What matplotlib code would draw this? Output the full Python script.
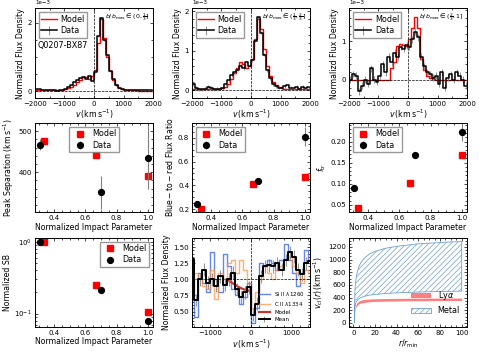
import numpy as np
import matplotlib
matplotlib.use("Agg")
import matplotlib.pyplot as plt
from matplotlib.ticker import MultipleLocator

plt.rcParams['font.size'] = 5.6
plt.rcParams['xtick.labelsize'] = 5.0
plt.rcParams['ytick.labelsize'] = 5.0
plt.rcParams['xtick.major.pad'] = 2
plt.rcParams['ytick.major.pad'] = 2
plt.rcParams['hatch.linewidth'] = 0.5
plt.rcParams['axes.linewidth'] = 0.7

# Lya spectra (units of 1e-3), bin centres every 100 km/s
v_lya = np.arange(-1950, 2000, 100)
data1 = [0.05, 0.05, 0.04, 0.03, 0.02, 0.03, 0.02, 0.01, 0.02, 0.04,
         0.07, 0.12, 0.17, 0.26, 0.33, 0.38, 0.42, 0.36, 0.45, 0.30,
         0.55, 1.60, 2.15, 1.50, 1.05, 0.60, 0.35, 0.18, 0.10, 0.05,
         0.03, 0.04, 0.02, 0.03, 0.02, 0.03, 0.02, 0.03, 0.02, 0.02]
model1 = [0.02, 0.02, 0.02, 0.02, 0.02, 0.02, 0.02, 0.02, 0.02, 0.03,
          0.05, 0.08, 0.12, 0.18, 0.26, 0.33, 0.40, 0.42, 0.35, 0.45,
          0.62, 1.40, 2.10, 1.55, 1.00, 0.60, 0.32, 0.17, 0.09, 0.05,
          0.03, 0.02, 0.02, 0.02, 0.02, 0.01, 0.01, 0.01, 0.01, 0.01]
data2 = [0.15, 0.05, 0.02, 0.02, 0.03, 0.08, 0.05, 0.02, 0.03, 0.03,
         0.05, 0.15, 0.25, 0.38, 0.45, 0.52, 0.62, 0.55, 0.70, 0.62,
         0.75, 1.25, 1.85, 1.45, 0.90, 0.50, 0.30, 0.15, 0.10, 0.06,
         0.05, 0.10, 0.12, 0.06, 0.04, 0.08, 0.03, 0.08, 0.04, 0.07]
model2 = [0.02, 0.02, 0.02, 0.02, 0.02, 0.02, 0.02, 0.02, 0.02, 0.03,
          0.04, 0.08, 0.15, 0.28, 0.42, 0.55, 0.70, 0.65, 0.55, 0.60,
          0.80, 1.30, 1.80, 1.55, 1.05, 0.60, 0.35, 0.20, 0.12, 0.07,
          0.04, 0.03, 0.02, 0.02, 0.02, 0.02, 0.02, 0.02, 0.02, 0.02]
data3 = [0.00, 0.15, 0.10, -0.30, -0.15, 0.00, -0.10, 0.30, 0.00, -0.05,
         0.10, 0.40, 0.20, 0.60, 0.45, 0.70, 0.60, 0.85, 0.80, 0.90,
         0.85, 1.05, 1.25, 1.10, 0.60, 0.35, 0.20, 0.15, 0.05, 0.10,
         -0.10, 0.20, -0.20, 0.05, 0.15, 0.00, 0.20, 0.10, 0.00, -0.15]
model3 = [0.0, 0.0, 0.0, 0.0, 0.0, 0.0, 0.0, 0.0, 0.0, 0.0,
          0.0, 0.0, 0.0, 0.0, 0.30, 0.45, 0.88, 0.92, 0.90, 0.88,
          1.05, 1.35, 1.62, 1.35, 0.55, 0.25, 0.10, 0.05, 0.02, 0.0,
          0.0, 0.0, 0.0, 0.0, 0.0, 0.0, 0.0, 0.0, 0.0, 0.0]
err_lya = [0.02, 0.04, 0.09]
bin_labels = [r'$b/b_{\rm max}\in(0,\frac{1}{3}]$',
              r'$b/b_{\rm max}\in(\frac{1}{3},\frac{2}{3}]$',
              r'$b/b_{\rm max}\in(\frac{2}{3},1]$']

# Lya properties vs impact parameter
b_model = [1/3, 2/3, 1.0]
b_data = [0.31, 0.70, 1.0]
sep_model = [476, 441, 390]
sep_data = [467, 351, 435]
sep_err = [14, 40, 77]
ratio_model = [0.20, 0.41, 0.47]
ratio_data = [0.245, 0.44, 0.81]
ratio_err = [0.01, 0.01, 0.08]
ftr_model = [0.042, 0.103, 0.168]
ftr_data = [0.089, 0.168, 0.222]
ftr_err = [0.003, 0.004, 0.02]
sb_model = [1.0, 0.254, 0.105]
sb_data = [1.0, 0.216, 0.079]

# metal absorption
v_met = np.arange(-1450, 1500, 100)
siII = [1.00, 0.42, 1.10, 0.95, 0.80, 1.42, 1.00, 0.80, 1.40, 1.20,
        0.85, 0.75, 0.62, 0.72, 0.95, 0.32, 0.55, 1.25, 1.20, 1.30,
        1.25, 1.15, 1.30, 1.55, 1.30, 1.10, 0.90, 1.10, 1.45, 1.30]
cII = [1.00, 1.10, 1.00, 0.90, 0.85, 1.15, 0.70, 1.10, 1.00, 1.25,
       1.30, 1.10, 1.30, 1.15, 0.95, 0.55, 0.80, 1.00, 1.20, 1.10,
       1.00, 1.15, 1.20, 1.30, 1.35, 1.20, 1.10, 0.95, 1.15, 1.10]
mean_met = [1.32, 0.68, 1.00, 1.15, 0.95, 1.00, 0.90, 1.05, 0.92, 1.00,
            1.10, 0.85, 0.72, 0.80, 0.88, 0.45, 0.62, 1.05, 1.20, 1.22,
            1.20, 1.25, 1.15, 1.30, 1.42, 1.35, 1.15, 1.08, 1.25, 1.28]
v_mod = [-560, -500, -400, -300, -200, -100, -20]
abs_mod = [0.99, 0.96, 0.92, 0.88, 0.85, 0.83, 0.82]

# cloud velocity profiles
r_cl = [1, 1.5, 2, 3, 5, 7, 10, 15, 20, 30, 40, 50, 60, 70, 80, 90, 100]
lya_lo = [0, 180, 230, 270, 300, 315, 325, 335, 340, 345, 348, 350, 351, 352, 353, 354, 355]
lya_hi = [0, 220, 270, 310, 345, 360, 370, 378, 382, 386, 388, 390, 391, 392, 392, 393, 393]
met_lo = [0, 250, 300, 340, 380, 400, 420, 440, 450, 465, 475, 482, 488, 492, 496, 499, 502]
met_hi = [0, 500, 620, 750, 880, 950, 1020, 1090, 1130, 1180, 1210, 1230, 1250, 1260, 1270, 1280, 1285]

fig, axes = plt.subplots(3, 3, figsize=(4.79, 3.52), dpi=100)
fig.subplots_adjust(left=0.073, right=0.975, bottom=0.071, top=0.976, wspace=0.33, hspace=0.28)

for ax in axes.flat:
    ax.tick_params(which='both', direction='in', top=True, right=True, width=0.5)
    ax.tick_params(which='major', length=2.5)
    ax.tick_params(which='minor', length=1.3)
    ax.minorticks_on()

leg_kw = dict(fontsize=5.8, borderpad=0.3, labelspacing=0.3, handletextpad=0.5,
              fancybox=False, edgecolor='grey')

# row 1
spec = [(data1, model1), (data2, model2), (data3, model3)]
ylims = [(-0.2e-3, 2.42e-3), (-0.2e-3, 2.07e-3), (-0.47e-3, 1.85e-3)]
for i in range(3):
    ax = axes[0, i]
    d, m = spec[i]
    ax.plot(v_lya, np.array(m) * 1e-3, drawstyle='steps-mid', color='red', lw=1.0, label='Model')
    ax.errorbar(v_lya, np.array(d) * 1e-3, yerr=err_lya[i] * 1e-3, drawstyle='steps-mid',
                color='k', lw=1.1, ecolor='grey', elinewidth=0.6, label='Data')
    ax.axvline(0, color='k', ls='--', lw=0.5)
    ax.axhline(0, color='k', ls='--', lw=0.5)
    ax.set_xlim(-2000, 2000)
    ax.set_ylim(*ylims[i])
    ax.xaxis.set_major_locator(MultipleLocator(1000))
    ax.xaxis.set_minor_locator(MultipleLocator(500))
    ax.yaxis.set_major_locator(MultipleLocator(2e-3 if i == 0 else 1e-3))
    ax.ticklabel_format(axis='y', style='sci', scilimits=(0, 0))
    ax.yaxis.get_offset_text().set_fontsize(4.0)
    ax.set_xlabel(r'$v\,({\rm km\,s^{-1}})$', labelpad=1)
    ax.set_ylabel('Normalizd Flux Density', labelpad=2)
    ax.text(0.97, 0.88, bin_labels[i], transform=ax.transAxes, ha='right', fontsize=4.5)
    ax.legend(loc='upper left', handlelength=1.9, **leg_kw)
axes[0, 0].text(0.02, 0.56, 'Q0207-BX87', transform=axes[0, 0].transAxes, fontsize=5.8)

# row 2
props = [(sep_model, sep_data, sep_err, r'Peak Separation $({\rm km\,s^{-1}})$', (302, 520), 'upper center'),
         (ratio_model, ratio_data, ratio_err, r'$\rm Blue-to-red$ Flux Ratio', (0.172, 0.925), 'upper left'),
         (ftr_model, ftr_data, ftr_err, r'$f_{\rm tr}$', (0.032, 0.244), 'upper left')]
for i in range(3):
    ax = axes[1, i]
    pm, pd, pe, lab, yl, loc = props[i]
    ax.plot(b_model, pm, 's', color='red', ms=4.2, label='Model')
    ax.errorbar(b_data, pd, yerr=pe, fmt='o', color='k', ms=4.2, ecolor='grey', elinewidth=0.8, label='Data')
    ax.set_ylim(*yl)
    ax.set_xlim(0.275, 1.035)
    ax.set_xlabel('Normalized Impact Parameter', labelpad=1)
    ax.set_ylabel(lab, labelpad=2)
    ax.legend(loc=loc, **leg_kw)
axes[1, 0].yaxis.set_major_locator(MultipleLocator(100))

# row 3, SB
ax = axes[2, 0]
ax.plot(b_model, sb_model, 's', color='red', ms=4.2, label='Model')
ax.plot(b_data, sb_data, 'o', color='k', ms=4.2, label='Data')
ax.set_yscale('log')
ax.set_ylim(0.065, 1.15)
ax.set_xlim(0.275, 1.035)
ax.set_xlabel('Normalized Impact Parameter', labelpad=1)
ax.set_ylabel('Normalized SB', labelpad=2)
ax.legend(loc='upper right', **leg_kw)

# row 3, metal absorption
ax = axes[2, 1]
ax.plot(v_met, siII, drawstyle='steps-mid', color='royalblue', lw=1.0, alpha=0.8, label=r'Si II $\lambda$1260')
ax.plot(v_met, cII, drawstyle='steps-mid', color='#ff8c3a', lw=1.0, alpha=0.7, label=r'C II $\lambda$1334')
ax.plot(v_mod, abs_mod, color='#c8352b', lw=1.6, label='Model')
ax.errorbar(v_met, mean_met, yerr=0.1, drawstyle='steps-mid', color='k', lw=1.4,
            ecolor='grey', elinewidth=0.6, label='Mean')
ax.axvline(0, color='k', ls='--', lw=0.5)
ax.axhline(1, color='k', ls='--', lw=0.5)
ax.set_xlim(-1450, 1450)
ax.set_ylim(0.26, 1.65)
ax.xaxis.set_major_locator(MultipleLocator(1000))
ax.set_xlabel(r'$v\,({\rm km\,s^{-1}})$', labelpad=1)
ax.set_ylabel('Normalized Flux Density', labelpad=2)
ax.legend(loc='lower right', fontsize=4.0, frameon=False, handlelength=2.0, labelspacing=0.35)

# row 3, velocity profiles
ax = axes[2, 2]
ax.fill_between(r_cl, lya_lo, lya_hi, color='red', alpha=0.5, lw=0, label=r'Ly$\alpha$')
ax.fill_between(r_cl, met_lo, met_hi, facecolor='none', edgecolor='#6fa0d0', hatch='//////',
                lw=0.6, label='Metal')
ax.set_xlabel(r'$r/r_{\rm min}$', labelpad=1)
ax.set_ylabel(r'$v_{\rm cl}(r)\,({\rm km\,s^{-1}})$', labelpad=2)
ax.xaxis.set_major_locator(MultipleLocator(20))
ax.yaxis.set_major_locator(MultipleLocator(200))
ax.legend(loc='lower right', bbox_to_anchor=(1.0, 0.05), fontsize=5.8, frameon=False, handlelength=2.5)

fig.savefig('out.png', dpi=100)
